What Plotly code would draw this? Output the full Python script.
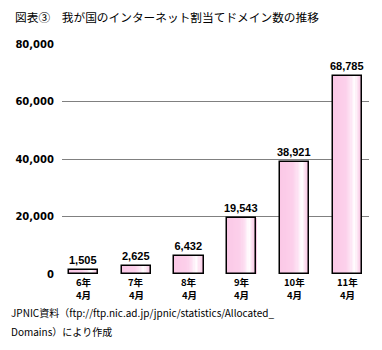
import plotly.graph_objects as go

# Allocated Internet domain names in Japan, April of each year (Heisei era)
years = ["6年", "7年", "8年", "9年", "10年", "11年"]
months = ["4月", "4月", "4月", "4月", "4月", "4月"]
domains = [1505, 2625, 6432, 19543, 38921, 68785]
y_ticks = [0, 20000, 40000, 60000, 80000]
y_tick_text = ["0", "20,000", "40,000", "60,000", "80,000"]

title_text = "図表③　我が国のインターネット割当てドメイン数の推移"
source_lines = [
    "JPNIC資料（ftp://ftp.nic.ad.jp/jpnic/statistics/Allocated_",
    "Domains）により作成",
]

W, H = 382, 350
ML, MR, MT, MB = 62, 13, 44, 76
BAR_W = 0.555
N_STRIPS = 24

# horizontal shading across each bar: pink, brightening to white, pink at the edge
stops = [(0.0, (251, 200, 230)), (0.45, (252, 208, 235)), (0.62, (253, 226, 243)),
         (0.76, (255, 255, 255)), (0.88, (252, 222, 240)), (1.0, (247, 196, 226))]


def shade(t):
    for (t0, c0), (t1, c1) in zip(stops, stops[1:]):
        if t0 <= t <= t1:
            f = (t - t0) / (t1 - t0)
            r, g, b = (round(a + (b_ - a) * f) for a, b_ in zip(c0, c1))
            return f"rgb({r},{g},{b})"
    return "rgb(247,196,226)"


fig = go.Figure()
sw = BAR_W / N_STRIPS
for i in range(N_STRIPS):
    fig.add_trace(go.Bar(
        x=years, y=domains,
        width=sw * 1.15, offset=-BAR_W / 2 + i * sw,
        marker=dict(color=shade((i + 0.5) / N_STRIPS), line=dict(width=0)),
        hoverinfo="skip", showlegend=False,
    ))

# outline and value labels
fig.add_trace(go.Bar(
    x=years, y=domains, width=BAR_W,
    marker=dict(color="rgba(0,0,0,0)", line=dict(color="black", width=1.5)),
    text=[f"{v:,}" for v in domains], textposition="outside", constraintext="none",
    textfont=dict(family="Liberation Sans", size=11, color="black", weight=700),
    cliponaxis=False, showlegend=False, hoverinfo="skip",
))

pw = W - ML - MR
ph = H - MT - MB


def paper_y(px):
    return (H - MB - px) / ph


# two-line category labels under each bar (year / month)
cat_font = dict(family="Noto Sans CJK JP", size=9.5, color="black", weight=700)
for yr, mo in zip(years, months):
    fig.add_annotation(text=yr, x=yr, xref="x", yref="paper", y=paper_y(282),
                       yanchor="middle", showarrow=False, borderpad=0, font=cat_font)
    fig.add_annotation(text=mo, x=yr, xref="x", yref="paper", y=paper_y(294.5),
                       yanchor="middle", showarrow=False, borderpad=0, font=cat_font)

fig.add_annotation(text=title_text, xref="paper", yref="paper",
                   x=(13 - ML) / pw, y=paper_y(16), xanchor="left", yanchor="middle",
                   showarrow=False, font=dict(family="Noto Sans CJK JP", size=11.7, color="black"))
for k, line in enumerate(source_lines):
    fig.add_annotation(text=line, xref="paper", yref="paper",
                       x=(10 - ML) / pw, y=paper_y(312.5 + 18.5 * k),
                       xanchor="left", yanchor="middle", showarrow=False, borderpad=0,
                       font=dict(family="Noto Sans CJK JP", size=10, color="black"))

fig.update_layout(
    width=W, height=H, margin=dict(l=ML, r=MR, t=MT, b=MB, pad=0),
    paper_bgcolor="white", plot_bgcolor="white", barmode="overlay",
    bargap=0, showlegend=False,
    xaxis=dict(type="category", range=[-0.4075, 5.411], showgrid=False, showline=False,
               zeroline=False, ticks="", showticklabels=False),
    yaxis=dict(range=[0, 80000], tickvals=y_ticks, ticktext=y_tick_text,
               showgrid=True, gridcolor="#808080", gridwidth=1, zeroline=False,
               showline=False, ticks="", ticklabelstandoff=7,
               tickfont=dict(family="DejaVu Sans", size=10, color="black", weight=700)),
)

fig.write_html("out.html")
